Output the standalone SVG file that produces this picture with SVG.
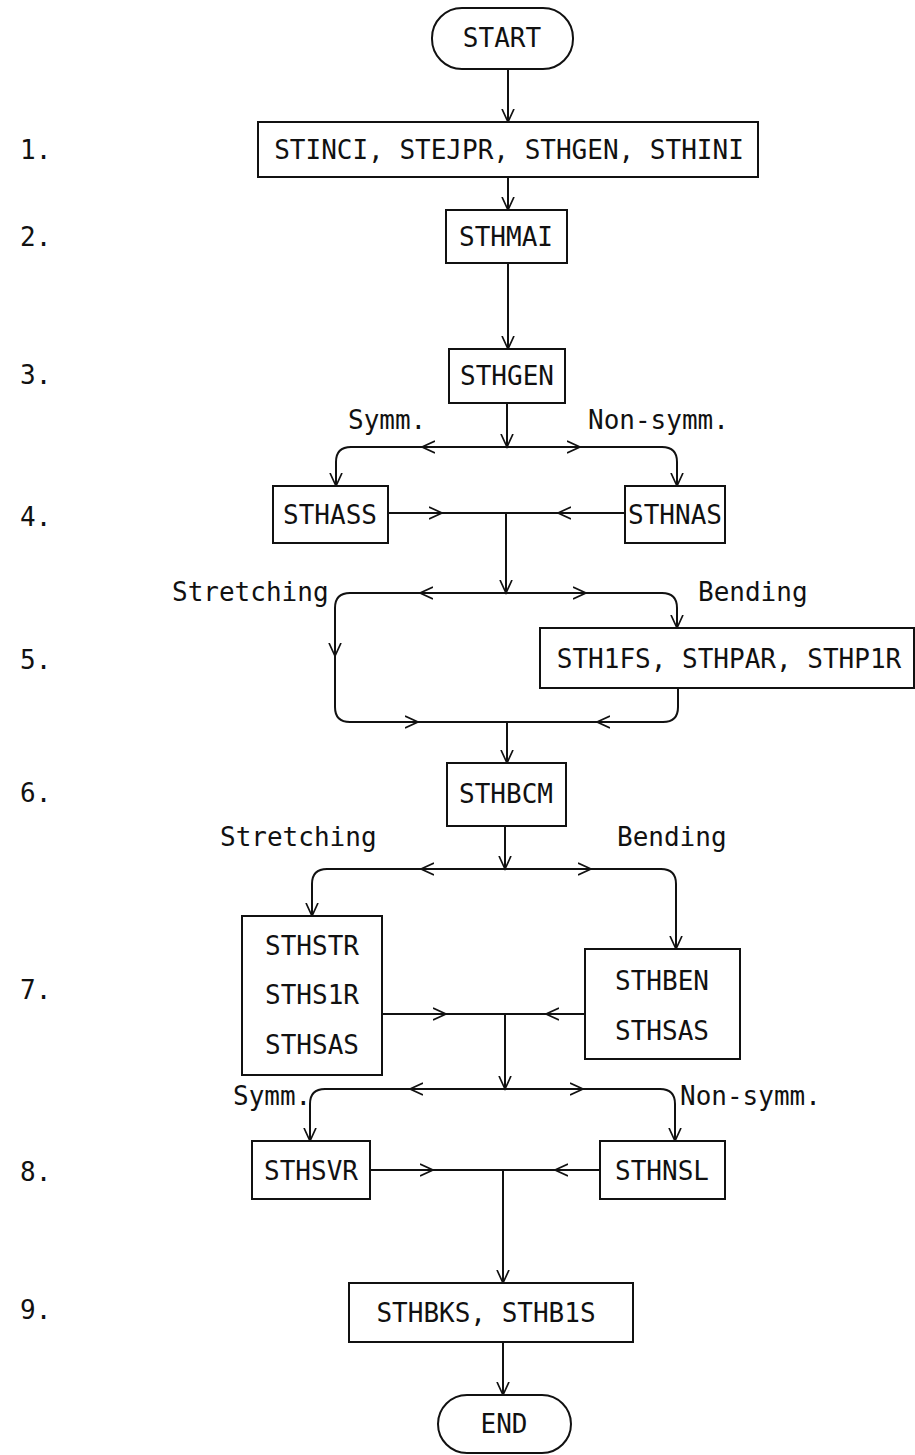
<svg xmlns="http://www.w3.org/2000/svg" width="915" height="1455" viewBox="0 0 915 1455">
<defs>
<style>
text{font-family:"DejaVu Sans Mono","Liberation Mono",monospace;font-size:26px;fill:#111}
.c{text-anchor:middle}
.box{fill:#fff;stroke:#111;stroke-width:2}
.ln{fill:none;stroke:#111;stroke-width:2}
.a{marker-end:url(#ah)}
</style>
<marker id="ah" markerWidth="16" markerHeight="16" refX="13" refY="8" orient="auto" markerUnits="userSpaceOnUse">
<path d="M0,2 L13,8 L0,14" fill="none" stroke="#111" stroke-width="1.7"/>
</marker>
</defs>
<rect width="915" height="1455" fill="#fff"/>

<g id="step-labels">
<text x="20" y="159">1.</text>
<text x="20" y="246">2.</text>
<text x="20" y="384">3.</text>
<text x="20" y="526">4.</text>
<text x="20" y="669">5.</text>
<text x="20" y="802">6.</text>
<text x="20" y="999">7.</text>
<text x="20" y="1181">8.</text>
<text x="20" y="1319">9.</text>
</g>

<g id="branch-labels">
<text x="348" y="429">Symm.</text>
<text x="588" y="429">Non-symm.</text>
<text x="172" y="601">Stretching</text>
<text x="698" y="601">Bending</text>
<text x="220" y="846">Stretching</text>
<text x="617" y="846">Bending</text>
<text x="233" y="1105">Symm.</text>
<text x="680" y="1105">Non-symm.</text>
</g>

<g id="connectors">
<path class="ln a" d="M508,69 V122"/>
<path class="ln a" d="M508,177 V210"/>
<path class="ln a" d="M508,263 V349"/>
<path class="ln a" d="M507,403 V447"/>
<path class="ln a" d="M507,447 H422"/>
<path class="ln a" d="M422,447 H351 Q336,447 336,462 V486"/>
<path class="ln a" d="M507,447 H580"/>
<path class="ln a" d="M580,447 H662 Q677,447 677,462 V486"/>
<path class="ln a" d="M388,513 H442"/>
<path class="ln" d="M442,513 H558"/>
<path class="ln a" d="M625,513 H558"/>
<path class="ln a" d="M506,513 V593"/>
<path class="ln a" d="M506,593 H420"/>
<path class="ln a" d="M420,593 H350 Q335,593 335,608 V656"/>
<path class="ln a" d="M335,656 V707 Q335,722 350,722 H418"/>
<path class="ln" d="M418,722 H597"/>
<path class="ln a" d="M506,593 H586"/>
<path class="ln a" d="M586,593 H662 Q677,593 677,608 V628"/>
<path class="ln a" d="M678,688 V707 Q678,722 663,722 H597"/>
<path class="ln a" d="M507,722 V763"/>
<path class="ln a" d="M505,826 V869"/>
<path class="ln a" d="M505,869 H421"/>
<path class="ln a" d="M421,869 H327 Q312,869 312,884 V916"/>
<path class="ln a" d="M505,869 H591"/>
<path class="ln a" d="M591,869 H661 Q676,869 676,884 V949"/>
<path class="ln a" d="M382,1014 H446"/>
<path class="ln" d="M446,1014 H546"/>
<path class="ln a" d="M585,1014 H546"/>
<path class="ln a" d="M505,1014 V1089"/>
<path class="ln a" d="M505,1089 H410"/>
<path class="ln a" d="M410,1089 H325 Q310,1089 310,1104 V1141"/>
<path class="ln a" d="M505,1089 H583"/>
<path class="ln a" d="M583,1089 H660 Q675,1089 675,1104 V1141"/>
<path class="ln a" d="M370,1170 H433"/>
<path class="ln" d="M433,1170 H555"/>
<path class="ln a" d="M600,1170 H555"/>
<path class="ln a" d="M503,1170 V1283"/>
<path class="ln a" d="M503,1342 V1395"/>
</g>

<g id="start">
<rect class="box" x="432" y="8" width="141" height="61" rx="30" ry="30"/>
<text class="c" x="502" y="47">START</text>
</g>
<g id="n1">
<rect class="box" x="258" y="122" width="500" height="55"/>
<text class="c" x="509" y="159">STINCI, STEJPR, STHGEN, STHINI</text>
</g>
<g id="n2">
<rect class="box" x="446" y="210" width="121" height="53"/>
<text class="c" x="506" y="246">STHMAI</text>
</g>
<g id="n3">
<rect class="box" x="449" y="349" width="116" height="54"/>
<text class="c" x="507" y="385">STHGEN</text>
</g>
<g id="n4a">
<rect class="box" x="273" y="486" width="115" height="57"/>
<text class="c" x="330" y="524">STHASS</text>
</g>
<g id="n4b">
<rect class="box" x="625" y="486" width="100" height="57"/>
<text class="c" x="675" y="524">STHNAS</text>
</g>
<g id="n5">
<rect class="box" x="540" y="628" width="374" height="60"/>
<text class="c" x="729" y="668">STH1FS, STHPAR, STHP1R</text>
</g>
<g id="n6">
<rect class="box" x="447" y="763" width="119" height="63"/>
<text class="c" x="506" y="803">STHBCM</text>
</g>
<g id="n7a">
<rect class="box" x="242" y="916" width="140" height="159"/>
<text class="c" x="312" y="955">STHSTR</text>
<text class="c" x="312" y="1004">STHS1R</text>
<text class="c" x="312" y="1054">STHSAS</text>
</g>
<g id="n7b">
<rect class="box" x="585" y="949" width="155" height="110"/>
<text class="c" x="662" y="990">STHBEN</text>
<text class="c" x="662" y="1040">STHSAS</text>
</g>
<g id="n8a">
<rect class="box" x="252" y="1141" width="118" height="58"/>
<text class="c" x="311" y="1180">STHSVR</text>
</g>
<g id="n8b">
<rect class="box" x="600" y="1141" width="125" height="58"/>
<text class="c" x="662" y="1180">STHNSL</text>
</g>
<g id="n9">
<rect class="box" x="349" y="1283" width="284" height="59"/>
<text class="c" x="486" y="1322">STHBKS, STHB1S</text>
</g>
<g id="end">
<rect class="box" x="438" y="1395" width="133" height="58" rx="29" ry="29"/>
<text class="c" x="504" y="1433">END</text>
</g>
</svg>
